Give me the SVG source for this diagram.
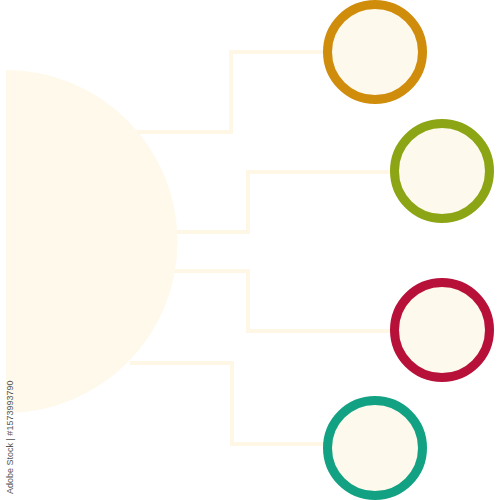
<svg xmlns="http://www.w3.org/2000/svg" width="500" height="500" viewBox="0 0 500 500">
<style>
.conn{fill:none;stroke:#FEF7E6;stroke-width:4}
.ring{fill:#FDF9EC;stroke-width:9}
.wm{font-family:"Liberation Sans",Arial,sans-serif;font-size:9px;fill:#555}
</style>
<rect width="500" height="500" fill="#FFFFFF"/>
<g id="connectors">
<path class="conn" d="M130,132 H231 V52 H326"/>
<path class="conn" d="M170,232 H248 V172 H392"/>
<path class="conn" d="M170,271 H248 V331 H392"/>
<path class="conn" d="M130,363 H232 V444 H326"/>
</g>
<g id="hub">
<path d="M6,70 A171.5,171.5 0 0 1 6,413 Z" fill="#FEF9EB"/>
</g>
<g id="node1"><circle class="ring" cx="375" cy="52" r="47.5" stroke="#D08C0B"/></g>
<g id="node2"><circle class="ring" cx="442" cy="171" r="47.5" stroke="#8CA514"/></g>
<g id="node3"><circle class="ring" cx="442" cy="330" r="47.5" stroke="#B7113A"/></g>
<g id="node4"><circle class="ring" cx="375" cy="448" r="47.5" stroke="#12A283"/></g>
<text class="wm" transform="translate(13,494) rotate(-90)">Adobe Stock | #1573993790</text>
</svg>
